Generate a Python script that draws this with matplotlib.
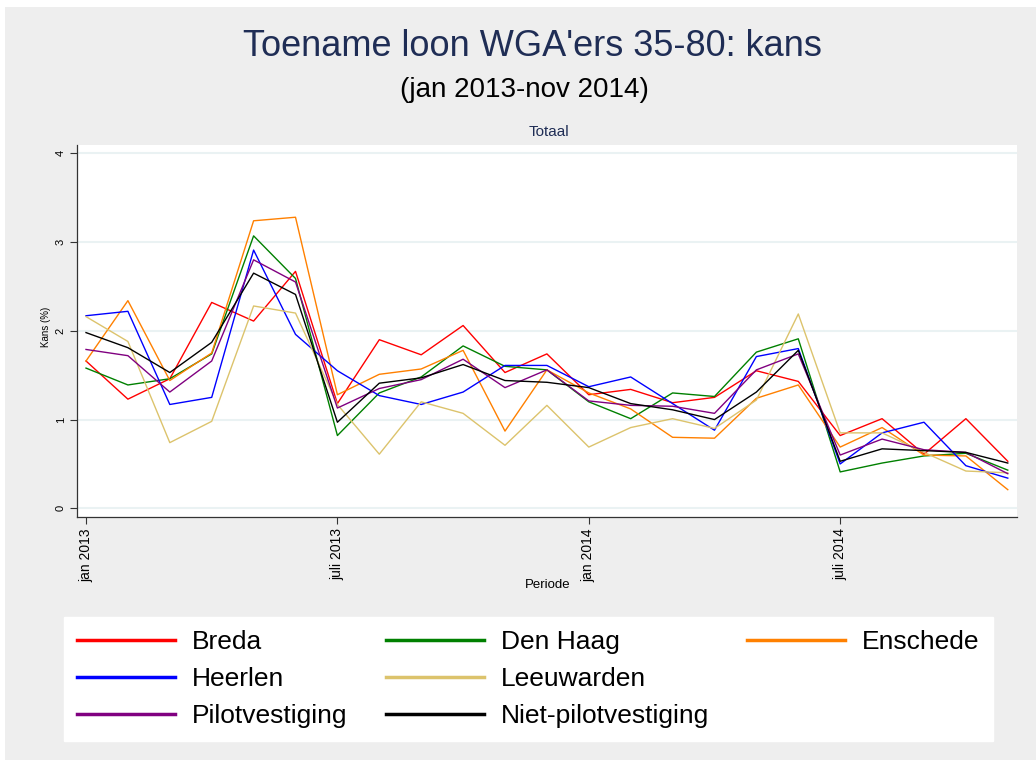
import matplotlib
matplotlib.use('Agg')
import matplotlib.pyplot as plt
from matplotlib.lines import Line2D
from matplotlib.patches import Rectangle

plt.rcParams['font.family'] = ['Liberation Sans', 'DejaVu Sans']

# maanden jan 2013 - nov 2014
months = list(range(23))
tick_pos = [0, 6, 12, 18]
tick_labels = ['jan 2013', 'juli 2013', 'jan 2014', 'juli 2014']

breda = [1.66, 1.23, 1.46, 2.32, 2.11, 2.67, 1.18, 1.90, 1.73, 2.06, 1.53, 1.74,
         1.28, 1.34, 1.19, 1.25, 1.55, 1.43, 0.82, 1.01, 0.61, 1.01, 0.53]
den_haag = [1.58, 1.39, 1.46, 1.74, 3.07, 2.59, 0.82, 1.30, 1.48, 1.83, 1.60, 1.56,
            1.20, 1.01, 1.30, 1.26, 1.76, 1.91, 0.41, 0.51, 0.59, 0.62, 0.43]
enschede = [1.66, 2.34, 1.44, 1.75, 3.24, 3.28, 1.28, 1.51, 1.57, 1.78, 0.87, 1.56,
            1.30, 1.12, 0.80, 0.79, 1.24, 1.39, 0.69, 0.91, 0.60, 0.59, 0.21]
heerlen = [2.17, 2.22, 1.17, 1.25, 2.91, 1.96, 1.55, 1.27, 1.17, 1.31, 1.61, 1.61,
           1.37, 1.48, 1.18, 0.88, 1.71, 1.80, 0.50, 0.85, 0.97, 0.48, 0.34]
leeuwarden = [2.16, 1.88, 0.74, 0.98, 2.28, 2.20, 1.17, 0.61, 1.20, 1.07, 0.71, 1.16,
              0.69, 0.91, 1.01, 0.90, 1.22, 2.19, 0.85, 0.85, 0.63, 0.42, 0.40]
pilot = [1.79, 1.72, 1.31, 1.66, 2.80, 2.55, 1.13, 1.35, 1.45, 1.68, 1.36, 1.56,
         1.21, 1.16, 1.15, 1.07, 1.56, 1.74, 0.60, 0.78, 0.66, 0.63, 0.39]
niet_pilot = [1.98, 1.81, 1.53, 1.87, 2.65, 2.41, 0.97, 1.41, 1.47, 1.62, 1.44, 1.42,
              1.36, 1.18, 1.11, 1.00, 1.31, 1.78, 0.53, 0.67, 0.65, 0.63, 0.51]

series = [
    ('Breda', breda, '#FF0000'),
    ('Den Haag', den_haag, '#008000'),
    ('Enschede', enschede, '#FF8000'),
    ('Heerlen', heerlen, '#0000FF'),
    ('Leeuwarden', leeuwarden, '#DCC36C'),
    ('Pilotvestiging', pilot, '#800080'),
    ('Niet-pilotvestiging', niet_pilot, '#000000'),
]

W, H = 1036, 760
fig = plt.figure(figsize=(W / 100, H / 100), dpi=100, facecolor='white')
fig.patches.append(Rectangle((5 / W, 0), 1, 1 - 7 / H, transform=fig.transFigure,
                             facecolor='#EEEEEE', edgecolor='none', zorder=-10))

ax = fig.add_axes([77 / W, 1 - 517 / H, 940 / W, 372 / H])
ax.set_facecolor('white')

for name, vals, col in series:
    ax.plot(months, vals, color=col, lw=1.0, label=name)

ax.set_xlim(-0.215, 22.22)
ax.set_ylim(-0.098, 4.094)
ax.set_yticks([0, 1, 2, 3, 4])
ax.set_yticklabels(['0', '1', '2', '3', '4'], rotation=90, va='center')
ax.set_xticks(tick_pos)
ax.set_xticklabels(tick_labels, rotation=90, va='top', ha='center')
ax.tick_params(axis='y', labelsize=8, length=5, width=0.8, color='#333333', pad=3)
ax.tick_params(axis='x', labelsize=10, length=5, width=0.8, color='#333333', pad=3)
ax.grid(axis='y', color='#EAF2F3', lw=1.5)
ax.set_axisbelow(True)
for s in ['top', 'right']:
    ax.spines[s].set_visible(False)
for s in ['left', 'bottom']:
    ax.spines[s].set_color('#333333')
    ax.spines[s].set_linewidth(0.9)

fig.text(46 / W, 1 - 327 / H, 'Kans (%)', rotation=90, ha='center', va='center', fontsize=7)
fig.text(548 / W, 1 - 585 / H, 'Periode', ha='center', va='center', fontsize=9.5)

fig.text(532 / W, 1 - 47 / H, "Toename loon WGA'ers 35-80: kans", ha='center', va='center',
         fontsize=26, color='#1F2D55')
fig.text(524 / W, 1 - 90 / H, '(jan 2013-nov 2014)', ha='center', va='center',
         fontsize=20, color='black')
fig.text(549 / W, 1 - 132 / H, 'Totaal', ha='center', va='center', fontsize=11, color='#1F2D55')

# legenda rij-voor-rij zoals Stata: kolomsgewijs aanvullen met lege items
h = {name: Line2D([], [], color=col, lw=2.5) for name, _, col in series}
blank = Line2D([], [], color='none')
handles = [h['Breda'], h['Heerlen'], h['Pilotvestiging'],
           h['Den Haag'], h['Leeuwarden'], h['Niet-pilotvestiging'],
           h['Enschede'], blank, blank]
labels = ['Breda', 'Heerlen', 'Pilotvestiging',
          'Den Haag', 'Leeuwarden', 'Niet-pilotvestiging',
          'Enschede', '', '']
leg = fig.legend(handles, labels, ncol=3, loc='upper left',
                 bbox_to_anchor=(64 / W, 1 - 617 / H), fontsize=19,
                 frameon=True, fancybox=False, framealpha=1, borderpad=0.5,
                 handlelength=3.71, handletextpad=0.64, columnspacing=1.45,
                 labelspacing=0.49, borderaxespad=0)
leg.get_frame().set_facecolor('white')
leg.get_frame().set_edgecolor('white')

fig.savefig('out.png', dpi=100, facecolor=fig.get_facecolor())
